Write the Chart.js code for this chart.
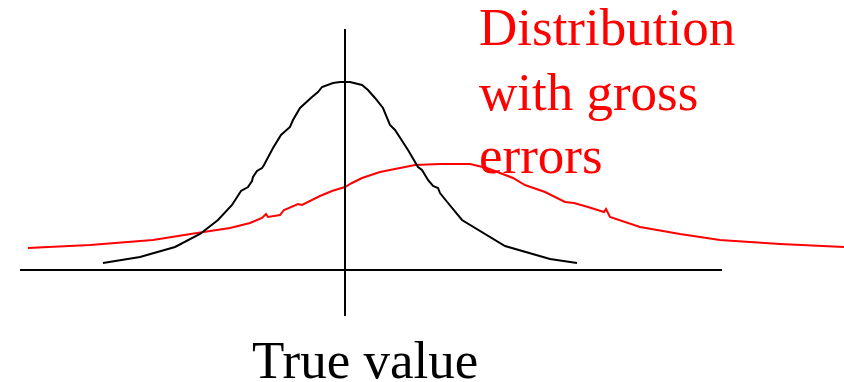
<!DOCTYPE html>
<html>
<head>
<meta charset="utf-8">
<script src="https://cdn.jsdelivr.net/npm/chart.js@4/dist/chart.umd.min.js"></script>
<style>
  html, body { margin: 0; padding: 0; background: #fff; }
  #wrap { width: 844px; height: 382px; }
</style>
</head>
<body>
<div id="wrap"><canvas id="errChart" width="844" height="382"></canvas></div>
<script>
// deviation from the true value (x) and relative frequency (y)
var narrowX = [-2.42, -2.05, -1.70, -1.45, -1.27, -1.13, -1.04, -0.97, -0.93, -0.92, -0.88, -0.83, -0.81, -0.72, -0.64, -0.55, -0.52, -0.45, -0.33, -0.27, -0.23, -0.12, -0.05, 0.05, 0.17, 0.23, 0.30, 0.38, 0.45, 0.50, 0.63, 0.73, 0.77, 0.83, 0.88, 0.93, 0.95, 1.03, 1.17, 1.60, 2.05, 2.32];
var narrowY = [0.07, 0.13, 0.23, 0.36, 0.50, 0.65, 0.79, 0.83, 0.89, 0.93, 0.99, 1.02, 1.05, 1.22, 1.35, 1.43, 1.50, 1.62, 1.73, 1.78, 1.83, 1.87, 1.88, 1.88, 1.85, 1.80, 1.72, 1.62, 1.45, 1.40, 1.20, 1.03, 1.00, 0.90, 0.84, 0.82, 0.77, 0.67, 0.50, 0.24, 0.11, 0.07];

var grossX = [-3.17, -2.55, -1.92, -1.48, -1.15, -0.95, -0.83, -0.79, -0.77, -0.65, -0.61, -0.47, -0.43, -0.25, -0.13, 0.00, 0.07, 0.17, 0.35, 0.55, 0.70, 0.95, 1.25, 1.42, 1.68, 1.80, 2.00, 2.20, 2.29, 2.43, 2.59, 2.61, 2.65, 2.95, 3.35, 3.75, 4.35, 4.99];
var grossY = [0.22, 0.25, 0.30, 0.37, 0.42, 0.47, 0.52, 0.56, 0.53, 0.55, 0.60, 0.66, 0.65, 0.74, 0.79, 0.83, 0.87, 0.92, 0.98, 1.02, 1.05, 1.06, 1.06, 1.02, 0.92, 0.85, 0.78, 0.68, 0.67, 0.63, 0.58, 0.61, 0.53, 0.43, 0.36, 0.30, 0.26, 0.23];

// axis lines
var baseX = [-3.25, 3.77];
var baseY = [0, 0];
var trueX = [0, 0];
var trueY = [2.41, -0.46];

function pts(xs, ys) {
  return xs.map(function (x, i) { return { x: x, y: ys[i] }; });
}

// labels drawn over the plot
var labelPlugin = {
  id: 'labels',
  afterDatasetsDraw: function (chart) {
    var ctx = chart.ctx;
    ctx.save();
    ctx.font = '53px "Liberation Serif", "Times New Roman", serif';
    ctx.textBaseline = 'alphabetic';
    ctx.textAlign = 'left';
    ctx.fillStyle = '#ff0000';
    ctx.fillText('Distribution', 479, 45);
    ctx.fillText('with gross', 479, 110);
    ctx.fillText('errors', 479, 173);
    ctx.fillStyle = '#000000';
    ctx.fillText('True value', 252, 378);
    ctx.restore();
  }
};

var lineStyle = { pointRadius: 0, tension: 0, fill: false, borderWidth: 2 };

new Chart(document.getElementById('errChart'), {
  type: 'line',
  data: {
    datasets: [
      Object.assign({ data: pts(baseX, baseY), borderColor: '#000' }, lineStyle),
      Object.assign({ data: pts(trueX, trueY), borderColor: '#000' }, lineStyle),
      Object.assign({ data: pts(narrowX, narrowY), borderColor: '#000' }, lineStyle),
      Object.assign({ data: pts(grossX, grossY), borderColor: '#ff0000' }, lineStyle)
    ]
  },
  options: {
    responsive: false,
    animation: false,
    layout: { padding: 0 },
    plugins: { legend: { display: false }, tooltip: { enabled: false } },
    scales: {
      x: { type: 'linear', min: -3.45, max: 4.99, display: false },
      y: { type: 'linear', min: -1.12, max: 2.70, display: false }
    }
  },
  plugins: [labelPlugin]
});
</script>
</body>
</html>
